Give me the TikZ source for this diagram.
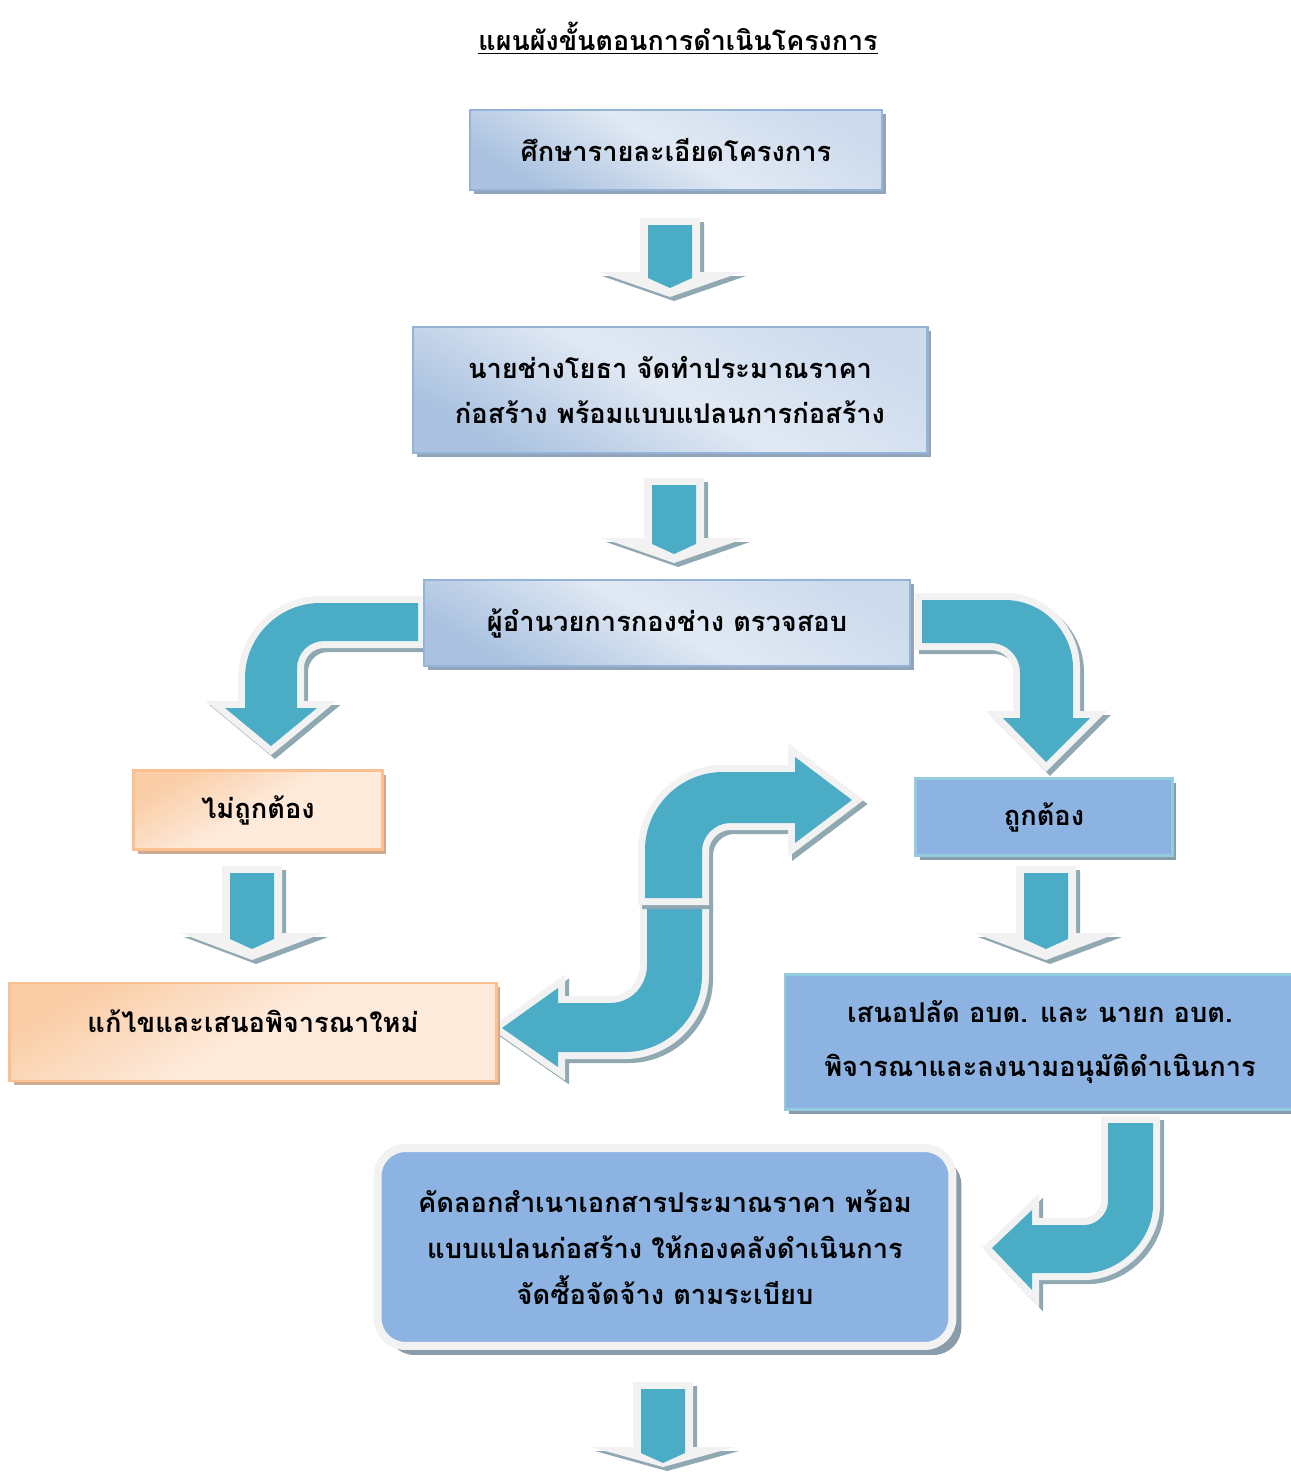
\documentclass[tikz,border=0pt]{standalone}
\usepackage{fontspec}
\newfontfamily\thaifont[Script=Thai]{Loma}
\usepackage{tikz}
\usetikzlibrary{shadows}

\definecolor{arrowteal}{RGB}{75,172,198}
\definecolor{arrowrim}{RGB}{242,242,242}
\definecolor{arrowshade}{RGB}{143,168,178}
\definecolor{blueedge}{RGB}{149,179,215}
\definecolor{bluedark}{RGB}{170,194,224}
\definecolor{bluemid}{RGB}{205,219,237}
\definecolor{bluelight}{RGB}{225,233,244}
\definecolor{blueshade}{RGB}{146,163,186}
\definecolor{peachedge}{RGB}{250,192,144}
\definecolor{peachdark}{RGB}{250,205,166}
\definecolor{peachlight}{RGB}{253,234,218}
\definecolor{peachshade}{RGB}{205,170,145}
\definecolor{skyfill}{RGB}{141,179,226}
\definecolor{skyedge}{RGB}{147,205,221}
\definecolor{skyshade}{RGB}{138,156,170}

\tikzset{
  boxtext/.style={font=\thaifont\bfseries\fontsize{15.5}{26}\selectfont, align=center, inner sep=0pt},
  gradbox/.style={boxtext, draw=blueedge, line width=1.2pt,
    top color=bluemid, bottom color=bluedark, middle color=bluelight, shading angle=-30,
    drop shadow={shadow xshift=0.08cm, shadow yshift=-0.08cm, opacity=1, fill=blueshade}},
  peachbox/.style={boxtext, draw=peachedge, line width=1.2pt,
    top color=peachdark, bottom color=peachlight, middle color=peachlight, shading angle=30,
    drop shadow={shadow xshift=0.08cm, shadow yshift=-0.08cm, opacity=1, fill=peachshade}},
  skybox/.style={boxtext, draw=skyedge, line width=1.2pt, fill=skyfill,
    drop shadow={shadow xshift=0.08cm, shadow yshift=-0.08cm, opacity=1, fill=skyshade}}
}

% block arrow: shadow, white rim, teal body
\newcommand{\bentarrow}[1]{%
  \filldraw[arrowshade, line width=0.28cm, shift={(4,4)}] #1;
  \filldraw[arrowrim, line width=0.28cm] #1;
  \fill[arrowteal] #1;
}

% straight arrow: x, top, shaft length, head length
\newcommand{\downblock}[4]{%
  \begin{scope}[shift={(#1,#2)}]
    \fill[arrowshade, shift={(4,4)}] (-30,0) -- (30,0) -- (30,#3) -- (72,#3) -- (0,{#3+#4}) -- (-72,#3) -- (-30,#3) -- cycle;
    \fill[arrowrim] (-30,0) -- (30,0) -- (30,#3) -- (72,#3) -- (0,{#3+#4}) -- (-72,#3) -- (-30,#3) -- cycle;
    \fill[arrowteal] (-22,7) -- (22,7) -- (22,{#3+6}) -- (0,{#3+16}) -- (-22,{#3+6}) -- cycle;
  \end{scope}}

\begin{document}
\begin{tikzpicture}[x=0.02cm, y=-0.02cm]

\useasboundingbox (0,0) rectangle (1291,1478);

% title
\node[boxtext, font=\thaifont\bfseries\fontsize{15.3}{20}\selectfont] (title) at (678,38) {\underline{แผนผังขั้นตอนการดำเนินโครงการ}};

% straight arrows
\downblock{670}{218}{54}{25}
\downblock{674}{478}{60}{25}
\downblock{252}{866}{67}{27}
\downblock{1046}{866}{67}{27}
\downblock{663}{1382}{65}{20}

% left turn to wrong
\bentarrow{(418,603) -- (320,603) .. controls (279,603) and (245,637) .. (245,678) -- (245,708) -- (225,708) -- (271,746) -- (317,708) -- (297,708) -- (297,668) .. controls (297,653) and (309,641) .. (324,641) -- (418,641) -- cycle}

% right turn to correct
\bentarrow{(922,600) -- (1005,600) .. controls (1042,600) and (1073,631) .. (1073,668) -- (1073,718) -- (1090,718) -- (1046,762) -- (1003,718) -- (1020,718) -- (1020,673) .. controls (1020,656) and (1007,643) .. (990,643) -- (922,643) -- cycle}

% s arrow, lower half
\bentarrow{(647,906) -- (647,965) .. controls (647,986) and (631,1003) .. (610,1003) -- (558,1003) -- (558,988) -- (502,1028) -- (558,1067) -- (558,1052) -- (625,1052) .. controls (667,1052) and (702,1017) .. (702,975) -- (702,906) -- cycle}

% s arrow, upper half
\bentarrow{(645,898) -- (645,850) .. controls (645,807) and (680,772) .. (723,772) -- (795,772) -- (795,757) -- (852,800) -- (795,843) -- (795,823) -- (730,823) .. controls (715,823) and (702,836) .. (702,851) -- (702,898) -- cycle}

% hook to procurement
\bentarrow{(1108,1123) -- (1153,1123) -- (1153,1205) .. controls (1153,1240) and (1120,1273) .. (1085,1273) -- (1032,1273) -- (1032,1290) -- (992,1248) -- (1032,1210) -- (1032,1225) -- (1085,1225) .. controls (1096,1225) and (1108,1214) .. (1108,1202) -- cycle}

% boxes
\node[gradbox, minimum width=8.24cm, minimum height=1.6cm] (study) at (676,150) {ศึกษารายละเอียดโครงการ};
\node[gradbox, minimum width=10.3cm, minimum height=2.52cm] (estimate) at (670,390) {นายช่างโยธา จัดทำประมาณราคา\\ก่อสร้าง พร้อมแบบแปลนการก่อสร้าง};
\node[gradbox, minimum width=9.72cm, minimum height=1.72cm] (check) at (667,623) {ผู้อำนวยการกองช่าง ตรวจสอบ};
\node[peachbox, minimum width=4.98cm, minimum height=1.58cm] (wrong) at (258,810) {ไม่ถูกต้อง};
\node[peachbox, minimum width=9.74cm, minimum height=1.96cm, text depth=0.45cm] (revise) at (253,1032) {แก้ไขและเสนอพิจารณาใหม่};
\node[skybox, minimum width=5.14cm, minimum height=1.54cm] (correct) at (1044,817) {ถูกต้อง};
\node[skybox, minimum width=10.2cm, minimum height=2.7cm] (propose) at (1040,1042) {เสนอปลัด อบต. และ นายก อบต.\\[5pt]พิจารณาและลงนามอนุมัติดำเนินการ};

% procurement box
\node[boxtext, draw=arrowrim, line width=0.16cm, fill=skyfill, rounded corners=0.56cm,
  minimum width=11.5cm, minimum height=3.96cm,
  drop shadow={shadow xshift=0.18cm, shadow yshift=-0.18cm, opacity=1, fill=skyshade}]
  (procure) at (665,1247) {คัดลอกสำเนาเอกสารประมาณราคา พร้อม\\แบบแปลนก่อสร้าง ให้กองคลังดำเนินการ\\จัดซื้อจัดจ้าง ตามระเบียบ};

\end{tikzpicture}
\end{document}
